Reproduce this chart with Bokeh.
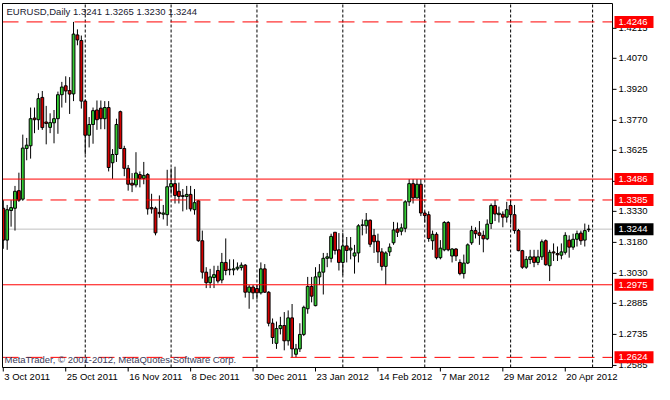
import numpy as np
from bokeh.plotting import figure
from bokeh.models import Range1d, ColumnDataSource
from bokeh.core.properties import value
from bokeh.embed import file_html
from bokeh.resources import INLINE

# EURUSD daily bars, 3 Oct 2011 .. 30 Apr 2012 (bar index 0..150)
opens = [1.3345, 1.3191, 1.3334, 1.3345, 1.3430, 1.3389, 1.3634, 1.3647, 1.3781, 1.3773,
         1.3881, 1.3762, 1.3736, 1.3758, 1.3778, 1.3894, 1.3937, 1.3914, 1.3898, 1.4183,
         1.4156, 1.3863, 1.3698, 1.3750, 1.3820, 1.3829, 1.3778, 1.3832, 1.3565, 1.3605,
         1.3812, 1.3634, 1.3538, 1.3466, 1.3458, 1.3508, 1.3489, 1.3508, 1.3348, 1.3345,
         1.3325, 1.3316, 1.3314, 1.3449, 1.3464, 1.3427, 1.3406, 1.3402, 1.3412, 1.3338,
         1.3381, 1.3188, 1.3036, 1.2985, 1.3010, 1.3044, 1.2998, 1.3083, 1.3050, 1.3047,
         1.3052, 1.3058, 1.3070, 1.2939, 1.2964, 1.2957, 1.2936, 1.3052, 1.2939, 1.2789,
         1.2692, 1.2763, 1.2778, 1.2704, 1.2815, 1.2639, 1.2665, 1.2735, 1.2859, 1.2967,
         1.2874, 1.3013, 1.3036, 1.3103, 1.3103, 1.3229, 1.3144, 1.3083, 1.3163, 1.3143,
         1.3114, 1.3129, 1.3263, 1.3260, 1.3287, 1.3214, 1.3186, 1.3134, 1.3064, 1.3134,
         1.3178, 1.3245, 1.3234, 1.3248, 1.3376, 1.3464, 1.3395, 1.3461, 1.3322, 1.3314,
         1.3188, 1.3219, 1.3106, 1.3144, 1.3276, 1.3114, 1.3148, 1.3083, 1.3029, 1.3080,
         1.3178, 1.3237, 1.3226, 1.3214, 1.3197, 1.3271, 1.3358, 1.3314, 1.3316, 1.3302,
         1.3358, 1.3314, 1.3237, 1.3140, 1.3060, 1.3097, 1.3110, 1.3083, 1.3110, 1.3188,
         1.3067, 1.3134, 1.3126, 1.3118, 1.3132, 1.3191, 1.3157, 1.3195, 1.3225, 1.3191,
         1.3241]
highs = [1.3384, 1.3361, 1.3384, 1.3453, 1.3517, 1.3701, 1.3685, 1.3832, 1.3832, 1.3901,
         1.3912, 1.3840, 1.3804, 1.3820, 1.3909, 1.3956, 1.3983, 1.3979, 1.4246, 1.4210,
         1.4180, 1.3871, 1.3786, 1.3832, 1.3866, 1.3866, 1.3863, 1.3863, 1.3631, 1.3778,
         1.3817, 1.3647, 1.3554, 1.3515, 1.3616, 1.3523, 1.3569, 1.3515, 1.3415, 1.3353,
         1.3407, 1.3361, 1.3531, 1.3538, 1.3546, 1.3469, 1.3438, 1.3453, 1.3453, 1.3438,
         1.3384, 1.3237, 1.3060, 1.3052, 1.3067, 1.3067, 1.3129, 1.3199, 1.3098, 1.3098,
         1.3083, 1.3083, 1.3075, 1.2974, 1.2974, 1.2974, 1.3083, 1.3075, 1.2944, 1.2812,
         1.2797, 1.2820, 1.2843, 1.2851, 1.2882, 1.2689, 1.2789, 1.2874, 1.3013, 1.3013,
         1.3060, 1.3075, 1.3129, 1.3129, 1.3222, 1.3229, 1.3225, 1.3225, 1.3206, 1.3206,
         1.3168, 1.3268, 1.3291, 1.3322, 1.3291, 1.3245, 1.3222, 1.3152, 1.3137, 1.3175,
         1.3279, 1.3276, 1.3271, 1.3384, 1.3486, 1.3486, 1.3486, 1.3486, 1.3330, 1.3330,
         1.3237, 1.3229, 1.3191, 1.3283, 1.3283, 1.3152, 1.3152, 1.3098, 1.3121, 1.3175,
         1.3260, 1.3253, 1.3283, 1.3237, 1.3291, 1.3368, 1.3384, 1.3353, 1.3330, 1.3376,
         1.3384, 1.3361, 1.3245, 1.3144, 1.3114, 1.3144, 1.3144, 1.3144, 1.3194, 1.3194,
         1.3144, 1.3175, 1.3160, 1.3175, 1.3229, 1.3214, 1.3222, 1.3237, 1.3237, 1.3271,
         1.3265]
lows = [1.3149, 1.3144, 1.3256, 1.3237, 1.3376, 1.3381, 1.3577, 1.3585, 1.3708, 1.3724,
        1.3724, 1.3654, 1.3708, 1.3659, 1.3705, 1.3832, 1.3855, 1.3801, 1.3863, 1.4133,
        1.3827, 1.3605, 1.3639, 1.3657, 1.3724, 1.3727, 1.3727, 1.3523, 1.3487, 1.3569,
        1.3631, 1.3500, 1.3430, 1.3423, 1.3446, 1.3446, 1.3461, 1.3314, 1.3319, 1.3214,
        1.3299, 1.3291, 1.3260, 1.3415, 1.3368, 1.3368, 1.3330, 1.3338, 1.3330, 1.3314,
        1.3183, 1.3005, 1.2959, 1.2959, 1.2959, 1.2982, 1.2982, 1.3021, 1.3021, 1.3021,
        1.3044, 1.3044, 1.2913, 1.2859, 1.2905, 1.2905, 1.2928, 1.2936, 1.2774, 1.2689,
        1.2665, 1.2735, 1.2658, 1.2681, 1.2624, 1.2624, 1.2650, 1.2727, 1.2835, 1.2890,
        1.2871, 1.2974, 1.2928, 1.3060, 1.3083, 1.3121, 1.3044, 1.3021, 1.3083, 1.3098,
        1.3029, 1.3083, 1.3214, 1.3222, 1.3157, 1.3129, 1.3080, 1.3044, 1.2974, 1.3114,
        1.3168, 1.3206, 1.3214, 1.3229, 1.3356, 1.3368, 1.3392, 1.3307, 1.3276, 1.3183,
        1.3144, 1.3098, 1.3098, 1.3137, 1.3137, 1.3083, 1.3090, 1.3021, 1.3005, 1.3075,
        1.3168, 1.3199, 1.3168, 1.3132, 1.3191, 1.3245, 1.3283, 1.3276, 1.3253, 1.3276,
        1.3268, 1.3222, 1.3137, 1.3052, 1.3052, 1.3075, 1.3060, 1.3070, 1.3095, 1.3067,
        1.2993, 1.3090, 1.3090, 1.3098, 1.3121, 1.3106, 1.3144, 1.3160, 1.3168, 1.3160,
        1.3230]
closes = [1.3191, 1.3338, 1.3348, 1.3427, 1.3384, 1.3636, 1.3650, 1.3778, 1.3773, 1.3875,
          1.3735, 1.3755, 1.3759, 1.3778, 1.3894, 1.3931, 1.3912, 1.3897, 1.4187, 1.4159,
          1.3863, 1.3698, 1.3750, 1.3817, 1.3773, 1.3778, 1.3832, 1.3542, 1.3605, 1.3750,
          1.3634, 1.3538, 1.3461, 1.3457, 1.3515, 1.3489, 1.3504, 1.3342, 1.3342, 1.3226,
          1.3319, 1.3322, 1.3449, 1.3464, 1.3407, 1.3402, 1.3402, 1.3412, 1.3342, 1.3372,
          1.3188, 1.3036, 1.2985, 1.3013, 1.3024, 1.2993, 1.3083, 1.3044, 1.3047, 1.3052,
          1.3060, 1.3070, 1.2939, 1.2964, 1.2936, 1.2936, 1.3052, 1.2939, 1.2789, 1.2720,
          1.2763, 1.2778, 1.2704, 1.2815, 1.2665, 1.2665, 1.2735, 1.2866, 1.2967, 1.2920,
          1.3013, 1.3036, 1.3103, 1.3110, 1.3209, 1.3141, 1.3083, 1.3163, 1.3141, 1.3152,
          1.3129, 1.3260, 1.3264, 1.3287, 1.3171, 1.3183, 1.3134, 1.3064, 1.3129, 1.3157,
          1.3240, 1.3229, 1.3250, 1.3376, 1.3464, 1.3395, 1.3461, 1.3322, 1.3310, 1.3199,
          1.3219, 1.3106, 1.3152, 1.3276, 1.3144, 1.3148, 1.3114, 1.3029, 1.3080, 1.3168,
          1.3237, 1.3222, 1.3214, 1.3197, 1.3268, 1.3358, 1.3317, 1.3321, 1.3302, 1.3338,
          1.3314, 1.3237, 1.3140, 1.3060, 1.3098, 1.3110, 1.3083, 1.3110, 1.3183, 1.3072,
          1.3132, 1.3129, 1.3120, 1.3134, 1.3214, 1.3157, 1.3195, 1.3222, 1.3188, 1.3237,
          1.3244]

# horizontal levels drawn on the chart
dashed_levels = [1.4246, 1.3385, 1.2624]
solid_levels = [1.3486, 1.2975]
bid_level = 1.3244
tag_levels = [1.4246, 1.3486, 1.3385, 1.2975, 1.2624]

# month separators (bar index of the first bar of each month)
month_starts = [21, 43, 65, 87, 108, 130, 151]

# date axis labels
date_idx = [0, 16, 32, 48, 64, 80, 96, 112, 128, 144]
date_labels = ["3 Oct 2011", "25 Oct 2011", "16 Nov 2011", "8 Dec 2011", "30 Dec 2011",
               "23 Jan 2012", "14 Feb 2012", "7 Mar 2012", "29 Mar 2012", "20 Apr 2012"]

# price axis ticks
price_ticks = [1.2585, 1.2735, 1.2885, 1.3030, 1.3180, 1.3330, 1.3475, 1.3625,
               1.3770, 1.3920, 1.4070, 1.4215]

# ---- layout (pixels) ----
W, H = 654, 384
CL, CR, CT, CB = 2, 612, 3, 367          # chart area inside the figure (pixels)
XMIN, XMAX = -0.2, 156.1                  # bar-index range of chart area
YMIN, YMAX = 1.2575, 1.4335               # price range of chart area
xs = (CR - CL) / (XMAX - XMIN)            # px per bar
ys = (CB - CT) / (YMAX - YMIN)            # px per price unit
def dx(px): return px / xs
def dy(px): return px / ys

FONT = value("Liberation Sans")
FS = value("9.5px")
GREEN = "#33cc33"
RED = "#d40000"

p = figure(width=W, height=H, output_backend="svg", toolbar_location=None,
           x_range=Range1d(XMIN - dx(CL), XMAX + dx(W - CR)),
           y_range=Range1d(YMIN - dy(H - CB), YMAX + dy(CT)),
           min_border=0, background_fill_color="white", border_fill_color="white")
p.axis.visible = False
p.grid.visible = False
p.outline_line_color = None

x = np.arange(len(opens))
o = np.array(opens); c = np.array(closes)
src = ColumnDataSource(dict(
    x=x, high=highs, low=lows,
    top=np.maximum(o, c), bottom=np.minimum(o, c),
    color=[GREEN if cc >= oo else RED for oo, cc in zip(opens, closes)],
))

# bid line and period separators behind the candles
p.segment(x0=[XMIN], y0=[bid_level], x1=[XMAX], y1=[bid_level], line_color="#c0c0c0", line_width=1)
p.segment(x0=month_starts, y0=[YMIN] * len(month_starts), x1=month_starts,
          y1=[YMAX] * len(month_starts), line_color="black", line_width=1, line_dash="3 2")

p.segment(x0="x", y0="high", x1="x", y1="low", source=src, line_color="black", line_width=1)
p.vbar(x="x", width=0.72, top="top", bottom="bottom", source=src,
       fill_color="color", line_color="black", line_width=1)

# horizontal levels
p.segment(x0=[XMIN] * len(dashed_levels), y0=dashed_levels, x1=[XMAX] * len(dashed_levels),
          y1=dashed_levels, line_color="#ff0000", line_width=1, line_dash="16 8")
p.segment(x0=[XMIN] * len(solid_levels), y0=solid_levels, x1=[XMAX] * len(solid_levels),
          y1=solid_levels, line_color="#ff0000", line_width=1)

# white out anything outside the chart area (left bar overhang)
p.quad(left=[XMIN - dx(CL + 5)], right=[XMIN], bottom=[YMIN - dy(40)], top=[YMAX + dy(10)],
       fill_color="white", line_color=None)

# chart frame
p.segment(x0=[XMIN, XMIN, XMAX, XMIN], y0=[YMIN, YMAX, YMIN, YMIN],
          x1=[XMIN, XMAX, XMAX, XMAX], y1=[YMAX, YMAX, YMAX, YMIN],
          line_color="black", line_width=1)

# right price scale
p.segment(x0=[XMAX] * len(price_ticks), y0=price_ticks, x1=[XMAX + dx(4)] * len(price_ticks),
          y1=price_ticks, line_color="black", line_width=1)
p.text(x=[XMAX + dx(6)] * len(price_ticks), y=price_ticks,
       text=[f"{t:.4f}" for t in price_ticks], text_font=FONT, text_font_size=FS,
       text_color="black", text_baseline="middle", text_align="left")

# price tags
tag_vals = tag_levels + [bid_level]
tag_cols = ["#ff0000"] * len(tag_levels) + ["black"]
p.quad(left=[XMAX + dx(2)] * len(tag_vals), right=[XMAX + dx(41)] * len(tag_vals),
       bottom=[v - dy(6) for v in tag_vals], top=[v + dy(6) for v in tag_vals],
       fill_color=tag_cols, line_color=None)
p.text(x=[XMAX + dx(6)] * len(tag_vals), y=tag_vals, text=[f"{v:.4f}" for v in tag_vals],
       text_font=FONT, text_font_size=FS, text_color="white",
       text_baseline="middle", text_align="left")

# time scale
p.segment(x0=date_idx, y0=[YMIN] * len(date_idx), x1=date_idx,
          y1=[YMIN - dy(4)] * len(date_idx), line_color="black", line_width=1)
p.text(x=[i + dx(1) for i in date_idx], y=[YMIN - dy(3)] * len(date_idx), text=date_labels,
       text_font=FONT, text_font_size=FS, text_color="black",
       text_baseline="top", text_align="left")

# header and copyright
p.text(x=[XMIN + dx(4)], y=[YMAX - dy(2)],
       text=[f"EURUSD,Daily  {opens[-1]:.4f} {highs[-1]:.4f} {lows[-1]:.4f} {closes[-1]:.4f}"],
       text_font=FONT, text_font_size=FS, text_color="#202030",
       text_baseline="top", text_align="left")
p.text(x=[XMIN + dx(2)], y=[YMIN + dy(3)],
       text=["MetaTrader, © 2001-2012, MetaQuotes Software Corp."],
       text_font=FONT, text_font_size=FS, text_color="#3a3a58",
       text_baseline="bottom", text_align="left")

open("out.html", "w").write(file_html(p, INLINE))
